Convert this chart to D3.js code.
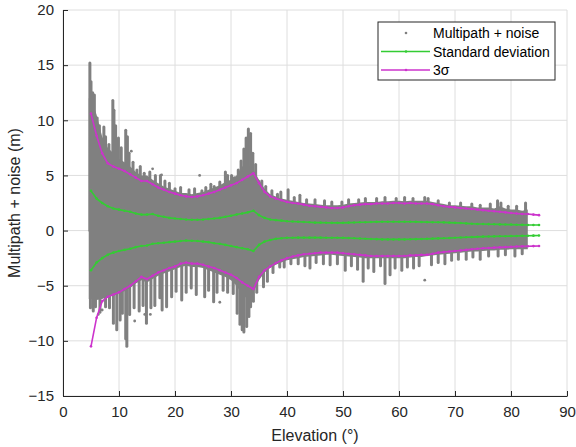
<!DOCTYPE html>
<html>
<head>
<meta charset="utf-8">
<script src="https://d3js.org/d3.v7.min.js"></script>
<style>
  body { margin: 0; background: #fff; }
  text { font-family: "Liberation Sans", Arial, sans-serif; }
</style>
</head>
<body>
<div id="chart"></div>
<script>
// elevation (deg) for the sigma curves
let elevation = d3.range(5, 86);

// 3 sigma, upper and lower (m)
let threeUp = [10.6, 8.6, 7.0, 6.1, 5.8, 5.6, 5.4, 5.1, 4.8, 4.5,
  4.5, 4.2, 3.9, 3.7, 3.5, 3.35, 3.2, 3.1, 3.05, 3.1,
  3.2, 3.35, 3.5, 3.7, 3.9, 4.1, 4.3, 4.6, 4.9, 5.2,
  4.3, 3.5, 3.1, 2.9, 2.75, 2.6, 2.5, 2.45, 2.35, 2.25,
  2.2, 2.15, 2.1, 2.05, 2.05, 2.1, 2.2, 2.3, 2.35, 2.4,
  2.4, 2.45, 2.45, 2.45, 2.5, 2.5, 2.45, 2.5, 2.45, 2.45,
  2.45, 2.4, 2.3, 2.2, 2.15, 2.1, 2.05, 2.0, 1.95, 1.9,
  1.85, 1.8, 1.75, 1.7, 1.65, 1.6, 1.55, 1.5, 1.5, 1.45, 1.4];
let threeLo = [-10.5, -7.9, -6.4, -6.0, -5.8, -5.6, -5.3, -5.0, -4.6, -4.2,
  -4.4, -4.1, -3.8, -3.6, -3.4, -3.25, -3.0, -2.9, -3.0, -3.0,
  -3.1, -3.25, -3.4, -3.6, -3.8, -4.0, -4.3, -4.7, -5.0, -5.3,
  -4.2, -3.6, -3.25, -2.95, -2.7, -2.5, -2.35, -2.25, -2.15, -2.1,
  -2.05, -2.0, -2.0, -2.0, -2.0, -2.05, -2.1, -2.15, -2.2, -2.25,
  -2.3, -2.3, -2.3, -2.3, -2.3, -2.3, -2.3, -2.25, -2.25, -2.2,
  -2.2, -2.1, -2.0, -1.95, -1.9, -1.85, -1.8, -1.75, -1.7, -1.65,
  -1.6, -1.58, -1.55, -1.52, -1.5, -1.48, -1.45, -1.43, -1.42, -1.41, -1.4];

// standard deviation, upper and lower (m)
let stdUp = [3.6, 2.9, 2.5, 2.2, 2.0, 1.9, 1.8, 1.7, 1.55, 1.45,
  1.45, 1.5, 1.35, 1.25, 1.15, 1.1, 1.05, 1.0, 0.98, 0.98,
  1.0, 1.05, 1.1, 1.15, 1.25, 1.35, 1.45, 1.55, 1.65, 1.8,
  1.4, 1.15, 1.0, 0.95, 0.9, 0.85, 0.82, 0.8, 0.78, 0.75,
  0.72, 0.72, 0.71, 0.7, 0.7, 0.7, 0.72, 0.73, 0.75, 0.76,
  0.78, 0.79, 0.8, 0.8, 0.8, 0.8, 0.8, 0.8, 0.79, 0.78,
  0.77, 0.76, 0.75, 0.74, 0.72, 0.7, 0.68, 0.65, 0.62, 0.6,
  0.59, 0.58, 0.57, 0.56, 0.55, 0.54, 0.53, 0.52, 0.51, 0.5, 0.5];
let stdLo = [-3.6, -2.9, -2.5, -2.2, -2.0, -1.85, -1.75, -1.65, -1.5, -1.4,
  -1.35, -1.2, -1.15, -1.1, -1.05, -1.0, -0.95, -0.9, -0.92, -0.95,
  -1.0, -1.05, -1.15, -1.2, -1.3, -1.4, -1.5, -1.6, -1.7, -1.85,
  -1.3, -1.0, -0.85, -0.75, -0.7, -0.65, -0.65, -0.64, -0.64, -0.64,
  -0.64, -0.64, -0.65, -0.65, -0.65, -0.66, -0.68, -0.7, -0.72, -0.74,
  -0.76, -0.78, -0.8, -0.8, -0.8, -0.8, -0.8, -0.79, -0.78, -0.77,
  -0.75, -0.73, -0.71, -0.69, -0.67, -0.65, -0.63, -0.61, -0.59, -0.57,
  -0.55, -0.54, -0.53, -0.52, -0.51, -0.5, -0.49, -0.48, -0.47, -0.46, -0.45];

// dense part of the scatter cloud (top and bottom edge)
let cloudElev = [4.6].concat(d3.range(5, 84));
let cloudTop = [12.0, 12.0, 10.5, 8.5, 7.5, 7.0, 6.5, 6.2, 5.8, 5.3, 5.0,
  5.0, 4.6, 4.3, 4.0, 3.8, 3.6, 3.4, 3.4, 3.3, 3.4,
  3.5, 3.7, 3.9, 4.1, 4.4, 4.6, 5.0, 5.8, 6.0, 5.5,
  4.6, 3.8, 3.3, 3.1, 2.9, 2.8, 2.7, 2.6, 2.5, 2.45,
  2.4, 2.35, 2.3, 2.3, 2.3, 2.35, 2.45, 2.5, 2.55, 2.6,
  2.6, 2.6, 2.65, 2.65, 2.7, 2.7, 2.65, 2.7, 2.7, 2.7,
  2.7, 2.6, 2.5, 2.4, 2.3, 2.3, 2.25, 2.2, 2.2, 2.1,
  2.1, 2.1, 2.0, 2.2, 2.0, 1.9, 1.9, 1.8, 1.9];
let cloudBot = [-6.2, -6.2, -6.3, -6.2, -6.0, -5.9, -5.7, -5.5, -5.2, -4.8, -4.5,
  -4.7, -4.4, -4.1, -3.9, -3.7, -3.5, -3.3, -3.2, -3.3, -3.3,
  -3.4, -3.6, -3.8, -4.0, -4.2, -4.5, -5.0, -5.8, -6.2, -5.6,
  -4.5, -3.8, -3.4, -3.1, -2.9, -2.7, -2.6, -2.5, -2.4, -2.35,
  -2.3, -2.25, -2.2, -2.2, -2.25, -2.3, -2.35, -2.4, -2.45, -2.5,
  -2.5, -2.5, -2.5, -2.5, -2.5, -2.5, -2.5, -2.45, -2.4, -2.4,
  -2.3, -2.25, -2.2, -2.15, -2.1, -2.05, -2.0, -1.95, -1.9, -1.9,
  -1.85, -1.8, -1.8, -1.75, -1.75, -1.7, -1.7, -1.7, -1.7];

// spikes sticking out of the cloud: [elevation, tip value]
let spikesUp = [[4.8, 15.2], [5.0, 13.5], [5.3, 12.5], [5.6, 12.3], [6.1, 10.2], [6.5, 9.5],
  [7.3, 9.4], [7.6, 8.5], [8.2, 7.8], [8.9, 11.8], [9.1, 10.9], [9.4, 9.5], [9.9, 8.4],
  [10.4, 7.5], [11.2, 9.1], [11.5, 8.5], [11.8, 7.0], [12.5, 6.2], [13.2, 5.5], [13.8, 5.8],
  [14.5, 5.2], [15.5, 5.3], [16.5, 5.0], [17.4, 5.0], [18.2, 4.5], [19.0, 4.3], [20.0, 3.8],
  [21.0, 3.9], [22.5, 3.7], [23.5, 3.8], [24.8, 3.6], [25.5, 3.9], [26.4, 4.2], [27.0, 4.0],
  [28.0, 4.4], [29.0, 5.3], [29.4, 5.0], [30.1, 5.0], [30.6, 4.8], [31.3, 5.5], [31.8, 6.3],
  [32.3, 7.4], [32.7, 8.4], [33.1, 9.2], [33.5, 8.8], [33.9, 7.0], [34.4, 6.0], [34.9, 4.5],
  [35.5, 4.5], [36.2, 4.0], [37.3, 3.6], [38.3, 3.3], [38.9, 3.5], [40.2, 3.7], [41.3, 3.0],
  [42.3, 3.2], [43.5, 2.8], [45.0, 2.8], [46.7, 2.7], [48.0, 2.6], [49.8, 2.6], [51.0, 2.8],
  [52.8, 2.8], [54.0, 2.9], [56.0, 2.9], [57.5, 3.0], [59.5, 2.9], [61.0, 3.0], [62.5, 2.9],
  [64.6, 3.0], [65.2, 2.9], [67.0, 2.7], [69.0, 2.5], [71.0, 2.5], [73.0, 2.4], [74.5, 2.3],
  [76.3, 2.4], [77.6, 2.7], [78.2, 2.5], [79.5, 2.2], [81.0, 2.2], [82.6, 2.5]];
let spikesDown = [[4.9, -7.0], [5.4, -7.3], [5.8, -6.9], [6.6, -7.4], [7.6, -6.9], [8.3, -7.0],
  [9.0, -8.4], [9.6, -9.0], [10.2, -8.1], [10.6, -7.5], [11.2, -9.8], [11.4, -10.5],
  [11.9, -7.6], [12.7, -7.0], [13.6, -7.3], [14.3, -6.8], [14.9, -8.4], [15.7, -7.0],
  [16.4, -6.8], [17.3, -6.1], [17.7, -7.2], [18.5, -6.9], [19.4, -6.0], [20.2, -5.5],
  [21.2, -6.3], [22.0, -5.6], [22.9, -5.2], [23.8, -5.8], [25.3, -6.0], [26.0, -5.4],
  [26.9, -6.45], [27.5, -5.6], [28.6, -5.4], [29.4, -5.6], [30.4, -5.7], [31.1, -7.5],
  [31.6, -8.5], [32.0, -9.0], [32.3, -9.2], [32.8, -8.7], [33.2, -7.8], [33.5, -6.9],
  [34.0, -6.4], [34.6, -5.6], [35.8, -5.1], [36.5, -4.6], [37.5, -3.8], [38.7, -3.3],
  [39.5, -3.3], [40.7, -3.0], [42.0, -3.0], [43.2, -3.2], [44.1, -3.4], [45.2, -2.9],
  [46.5, -3.0], [47.7, -3.1], [49.0, -3.0], [50.4, -3.6], [51.5, -3.2], [52.6, -3.5],
  [53.6, -4.6], [54.5, -3.4], [55.5, -3.7], [56.7, -3.2], [57.5, -4.8], [58.4, -4.0],
  [59.3, -3.4], [60.5, -3.6], [61.5, -3.3], [62.6, -3.4], [63.6, -3.2], [65.8, -3.1],
  [67.0, -2.9], [68.2, -3.0], [69.4, -2.7], [70.6, -2.6], [72.0, -2.6], [73.2, -2.4],
  [74.5, -2.6], [76.0, -2.3], [77.7, -2.3], [79.0, -2.2], [80.7, -2.3], [82.0, -2.1]];

// lone points away from the cloud
let outliers = [[6.3, -7.6], [7.0, -7.2], [12.8, -8.2], [14.6, -7.6], [15.6, -7.6],
  [16.0, 5.6], [17.6, 5.05], [24.4, 5.0], [28.0, -6.5], [64.6, -4.5], [12.2, 7.2]];

// tick values
let xTicks = d3.range(0, 91, 10);
let yTicks = d3.range(-15, 21, 5);

// legend labels
let legendLabels = ["Multipath + noise", "Standard deviation", "3\u03c3"];

// sizes
let svgWidth = 576;
let svgHeight = 447;
let margin = { top: 10, right: 9, bottom: 51, left: 63 };
let width = svgWidth - margin.left - margin.right;
let height = svgHeight - margin.top - margin.bottom;

let gray = "#808080";
let green = "#33cc33";
let magenta = "#cc33cc";
let axisColor = "#262626";

let svg = d3.select("#chart")
  .append("svg")
  .attr("width", svgWidth)
  .attr("height", svgHeight);

let chartGroup = svg.append("g")
  .attr("transform", `translate(${margin.left}, ${margin.top})`);

let x = d3.scaleLinear().domain([0, 90]).range([0, width]);
let y = d3.scaleLinear().domain([-15, 20]).range([height, 0]);

// grid lines
chartGroup.append("g")
  .selectAll("line")
  .data(xTicks)
  .enter()
  .append("line")
  .attr("x1", d => x(d)).attr("x2", d => x(d))
  .attr("y1", 0).attr("y2", height)
  .attr("stroke", "#dedede");
chartGroup.append("g")
  .selectAll("line")
  .data(yTicks)
  .enter()
  .append("line")
  .attr("x1", 0).attr("x2", width)
  .attr("y1", d => y(d)).attr("y2", d => y(d))
  .attr("stroke", "#dedede");

// scatter cloud
let cloud = cloudElev.map((e, i) => ({ e: e, top: cloudTop[i], bot: cloudBot[i] }));
chartGroup.append("path")
  .datum(cloud)
  .attr("fill", gray)
  .attr("d", d3.area()
    .x(d => x(d.e))
    .y0(d => y(d.bot))
    .y1(d => y(d.top)));

chartGroup.append("g")
  .selectAll("line")
  .data(spikesUp.concat(spikesDown))
  .enter()
  .append("line")
  .attr("x1", d => x(d[0])).attr("x2", d => x(d[0]))
  .attr("y1", y(0)).attr("y2", d => y(d[1]))
  .attr("stroke", gray)
  .attr("stroke-width", 3)
  .attr("stroke-linecap", "round");

chartGroup.append("g")
  .selectAll("circle")
  .data(outliers)
  .enter()
  .append("circle")
  .attr("cx", d => x(d[0]))
  .attr("cy", d => y(d[1]))
  .attr("r", 1.4)
  .attr("fill", gray);

// sigma curves with small dot markers
function drawCurve(values, color) {
  let pts = elevation.map((e, i) => [e, values[i]]);
  chartGroup.append("path")
    .datum(pts)
    .attr("fill", "none")
    .attr("stroke", color)
    .attr("stroke-width", 1.6)
    .attr("d", d3.line().x(d => x(d[0])).y(d => y(d[1])));
  chartGroup.append("g")
    .selectAll("circle")
    .data(pts)
    .enter()
    .append("circle")
    .attr("cx", d => x(d[0]))
    .attr("cy", d => y(d[1]))
    .attr("r", 1.3)
    .attr("fill", color);
}
drawCurve(stdUp, green);
drawCurve(stdLo, green);
drawCurve(threeUp, magenta);
drawCurve(threeLo, magenta);

// axes
let bottomAxis = d3.axisBottom(x).tickValues(xTicks).tickSizeInner(-5).tickSizeOuter(0).tickPadding(10);
let leftAxis = d3.axisLeft(y).tickValues(yTicks).tickSizeInner(-5).tickSizeOuter(0).tickPadding(9);

let xAxis = chartGroup.append("g")
  .attr("transform", `translate(0, ${height})`)
  .call(bottomAxis);
let yAxis = chartGroup.append("g")
  .call(leftAxis);

[xAxis, yAxis].forEach(a => {
  a.select(".domain").attr("stroke", axisColor);
  a.selectAll(".tick line").attr("stroke", axisColor);
  a.selectAll(".tick text")
    .attr("fill", axisColor)
    .style("font-size", "15px")
    .style("font-family", "Liberation Sans, Arial, sans-serif");
});

// axis labels
chartGroup.append("text")
  .attr("x", width / 2)
  .attr("y", height + 45)
  .attr("text-anchor", "middle")
  .attr("fill", axisColor)
  .style("font-size", "16px")
  .text("Elevation (\u00b0)");

chartGroup.append("text")
  .attr("transform", `translate(-43, ${height / 2}) rotate(-90)`)
  .attr("text-anchor", "middle")
  .attr("fill", axisColor)
  .style("font-size", "16px")
  .text("Multipath + noise (m)");

// legend
let legend = svg.append("g").attr("transform", "translate(378, 22)");
legend.append("rect")
  .attr("width", 177)
  .attr("height", 58)
  .attr("fill", "#fff")
  .attr("stroke", axisColor);

let legendColors = [gray, green, magenta];
legendLabels.forEach((label, i) => {
  let row = legend.append("g").attr("transform", `translate(0, ${11 + i * 18.5})`);
  if (i > 0) {
    row.append("line")
      .attr("x1", 3).attr("x2", 52)
      .attr("stroke", legendColors[i])
      .attr("stroke-width", 1.5);
  }
  row.append("circle")
    .attr("cx", 28)
    .attr("r", 1.3)
    .attr("fill", legendColors[i]);
  row.append("text")
    .attr("x", 55)
    .attr("y", 5)
    .attr("fill", "#000")
    .style("font-size", "14px")
    .text(label);
});
</script>
</body>
</html>
